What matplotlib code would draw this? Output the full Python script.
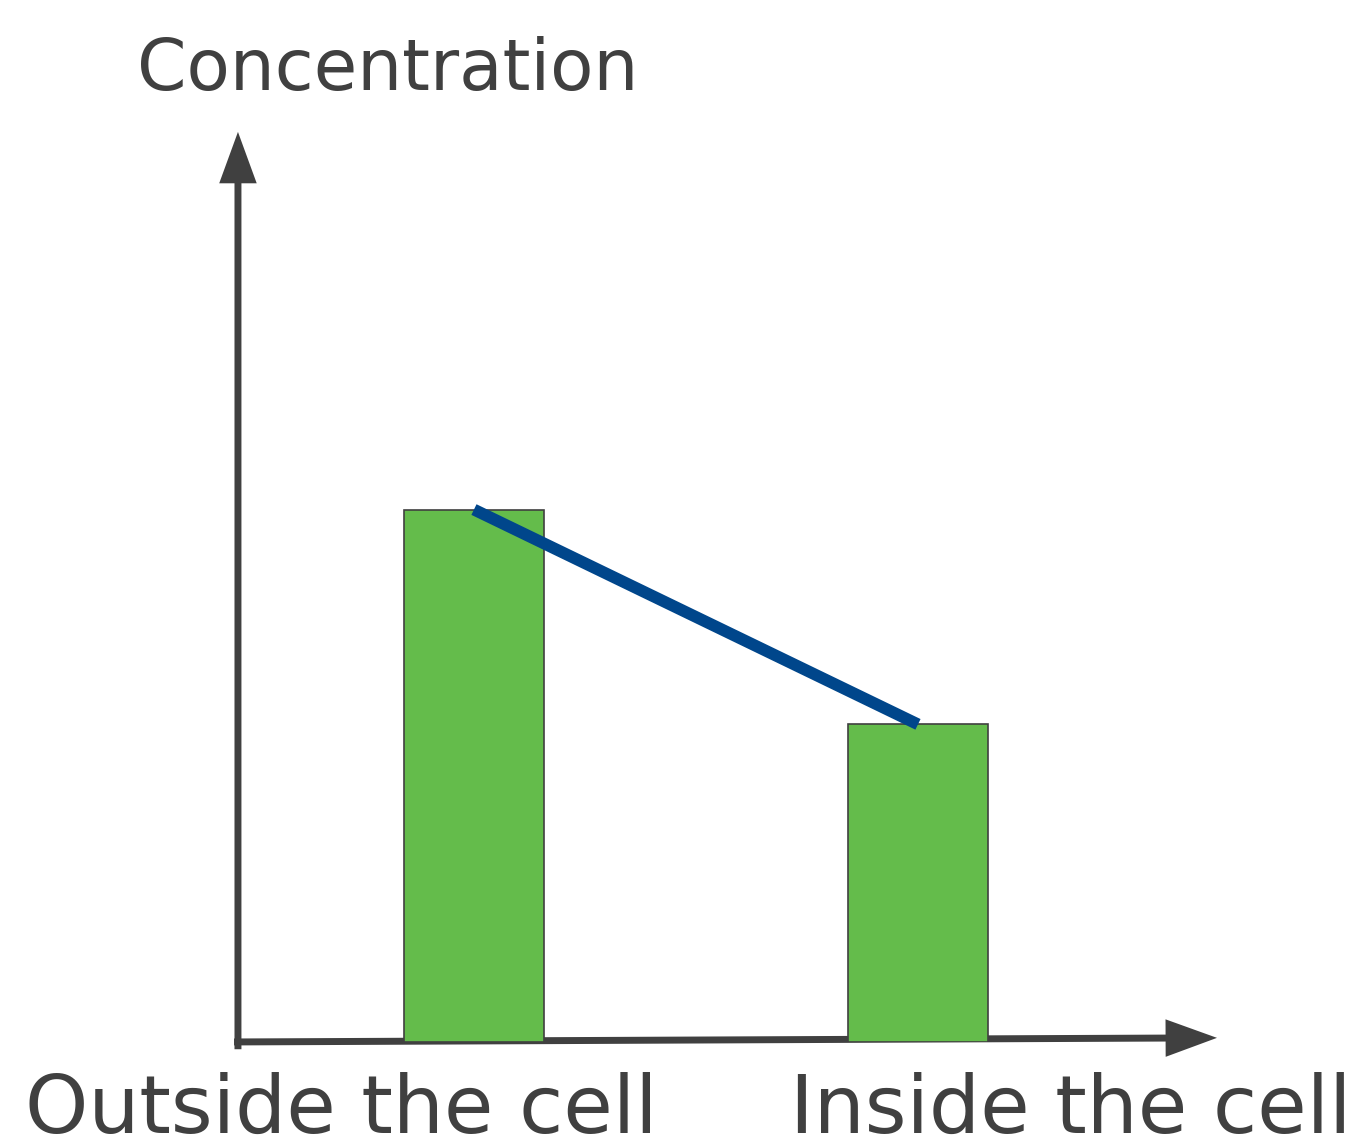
import matplotlib.pyplot as plt
from matplotlib.patches import FancyArrowPatch

# Data
categories = ['Outside the cell', 'Inside the cell']
concentration = [5.85, 3.49]
y_label = 'Concentration'

DARK = '#404040'
GREEN = '#64BC4B'
BLUE = '#00468B'


def main():
    fig = plt.figure(figsize=(13.59, 11.44), dpi=100)
    ax = fig.add_axes([0.1751, 0.0892, 0.7204, 0.7955])
    ax.set_xlim(-0.5315, 1.6734)
    ax.set_ylim(0, 10)
    ax.axis('off')

    pos = list(range(len(categories)))

    # Bars
    ax.bar(pos, concentration, width=0.315, color=GREEN, edgecolor=DARK,
           linewidth=1.2, zorder=2)

    # Line joining the bar tops
    ax.plot(pos, concentration, color=BLUE, linewidth=8.5,
            solid_capstyle='butt', zorder=3)

    # Axis arrows (filled, no outline so the tips stay sharp)
    style = 'simple,head_length=37,head_width=27,tail_width=5'
    yarrow = FancyArrowPatch((0, -0.008), (0, 1), transform=ax.transAxes,
                             arrowstyle=style, mutation_scale=1, lw=0,
                             color=DARK, shrinkA=0, shrinkB=0, clip_on=False,
                             zorder=1)
    xarrow = FancyArrowPatch((-0.004, 0), (1, 0.0045), transform=ax.transAxes,
                             arrowstyle=style, mutation_scale=1, lw=0,
                             color=DARK, shrinkA=0, shrinkB=0, clip_on=False,
                             zorder=1)
    ax.add_patch(yarrow)
    ax.add_patch(xarrow)

    # Labels
    fig.text(137 / 1359, 1 - 90 / 1144, y_label, fontsize=51, color=DARK,
             ha='left', va='baseline')
    fig.text(25 / 1359, 1 - 1133 / 1144, categories[0], fontsize=58,
             color=DARK, ha='left', va='baseline')
    fig.text(790 / 1359, 1 - 1133 / 1144, categories[1], fontsize=58,
             color=DARK, ha='left', va='baseline')

    fig.savefig('out.png', dpi=100)


if __name__ == '__main__':
    main()
